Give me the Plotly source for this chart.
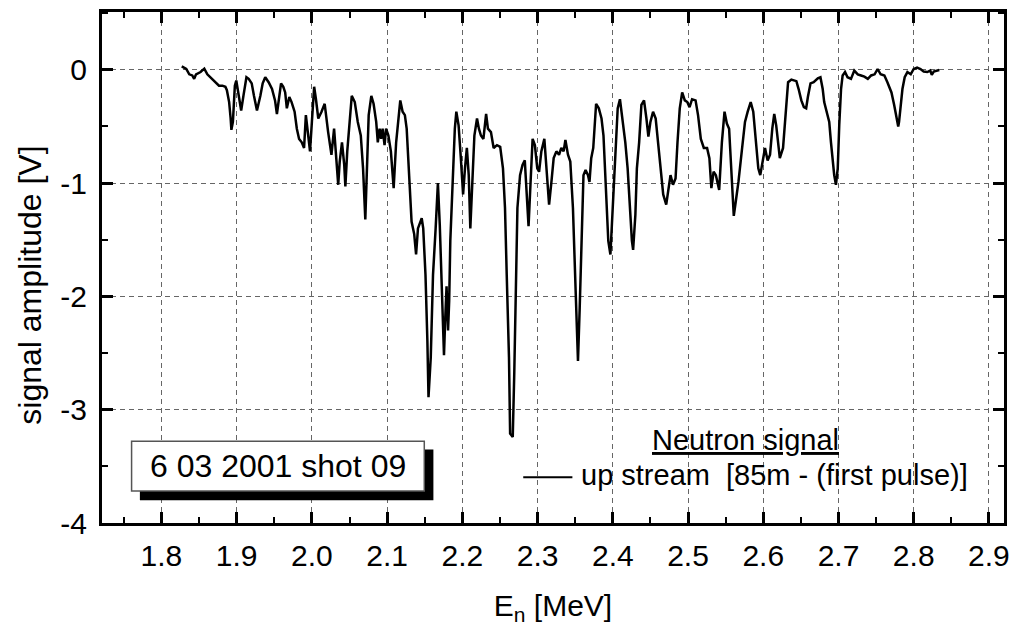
import plotly.graph_objects as go

# ---- data ----
energy_mev = [
    1.827, 1.833, 1.837, 1.841, 1.8435, 1.846, 1.852, 1.857, 1.861, 1.866,
    1.872, 1.8765, 1.881, 1.885, 1.887, 1.890, 1.892, 1.893, 1.895, 1.8976,
    1.8995, 1.902, 1.904, 1.906, 1.909, 1.913, 1.916, 1.920, 1.923, 1.927,
    1.9315, 1.9346, 1.938, 1.9425, 1.947, 1.951, 1.9535, 1.9556, 1.959, 1.962,
    1.9645, 1.9667, 1.970, 1.973, 1.977, 1.980, 1.983, 1.9865, 1.9896, 1.992,
    1.9943, 1.9975, 2.000, 2.003, 2.0054, 2.0085, 2.0128, 2.017, 2.0216, 2.026,
    2.0295, 2.0327, 2.035, 2.037, 2.040, 2.043, 2.0445, 2.047, 2.050, 2.053,
    2.057, 2.061, 2.065, 2.068, 2.071, 2.073, 2.0755, 2.079, 2.082, 2.0855,
    2.0876, 2.090, 2.092, 2.094, 2.0966, 2.0986, 2.1017, 2.105, 2.1087, 2.112,
    2.115, 2.1175, 2.1206, 2.1236, 2.126, 2.129, 2.1325, 2.136, 2.1385, 2.141,
    2.1435, 2.146, 2.148, 2.151, 2.1535, 2.155, 2.158, 2.161, 2.1645, 2.1675,
    2.170, 2.173, 2.1756, 2.177, 2.179, 2.181, 2.1825, 2.184, 2.187, 2.190,
    2.192, 2.195, 2.198, 2.201, 2.2035, 2.206, 2.2085, 2.2106, 2.2133, 2.216,
    2.2195, 2.222, 2.2247, 2.228, 2.2316, 2.234, 2.238, 2.2416, 2.246, 2.2503,
    2.254, 2.2567, 2.259, 2.262, 2.2635, 2.267, 2.269, 2.2714, 2.2732, 2.2767,
    2.280, 2.283, 2.2853, 2.288, 2.2907, 2.2934, 2.2964, 2.2996, 2.302, 2.305,
    2.309, 2.3117, 2.3153, 2.3184, 2.3214, 2.325, 2.3285, 2.3316, 2.3346, 2.337,
    2.3404, 2.3435, 2.347, 2.3506, 2.3537, 2.356, 2.3593, 2.361, 2.3638, 2.367,
    2.369, 2.3713, 2.374, 2.3778, 2.3814, 2.385, 2.3876, 2.391, 2.394, 2.3968,
    2.400, 2.403, 2.4065, 2.4095, 2.413, 2.4166, 2.4197, 2.4227, 2.4254, 2.427,
    2.430, 2.432, 2.435, 2.438, 2.4415, 2.4447, 2.4473, 2.450, 2.4535, 2.457,
    2.4605, 2.464, 2.467, 2.471, 2.4737, 2.4767, 2.480, 2.4834, 2.486, 2.489,
    2.4922, 2.4957, 2.499, 2.502, 2.5054, 2.510, 2.5133, 2.517, 2.521, 2.5253,
    2.5284, 2.531, 2.534, 2.537, 2.5414, 2.545, 2.5485, 2.5516, 2.5546, 2.558,
    2.5608, 2.5635, 2.567, 2.5714, 2.5757, 2.5793, 2.5833, 2.5867, 2.5903, 2.5934,
    2.596, 2.5987, 2.6023, 2.6058, 2.609, 2.612, 2.6146, 2.6172, 2.620, 2.622,
    2.6263, 2.6294, 2.633, 2.6374, 2.644, 2.647, 2.6506, 2.654, 2.657, 2.6593,
    2.6628, 2.667, 2.6725, 2.676, 2.679, 2.681, 2.6847, 2.6877, 2.690, 2.692,
    2.6943, 2.6966, 2.699, 2.701, 2.7034, 2.7055, 2.7087, 2.712, 2.7166, 2.721,
    2.7256, 2.730, 2.7344, 2.739, 2.7434, 2.748, 2.752, 2.756, 2.761, 2.765,
    2.7704, 2.774, 2.777, 2.7794, 2.7805, 2.7825, 2.785, 2.788, 2.7916, 2.796,
    2.800, 2.8045, 2.809, 2.8133, 2.818, 2.822, 2.824, 2.8266, 2.831, 2.834,
]

signal_v = [
    0.03, 0.007, -0.04, -0.05, -0.08, -0.04, -0.02, 0.01, -0.04, -0.075,
    -0.11, -0.14, -0.14, -0.15, -0.18, -0.285, -0.43, -0.53, -0.46, -0.14,
    -0.095, -0.20, -0.31, -0.36, -0.23, -0.066, -0.08, -0.12, -0.23, -0.36,
    -0.23, -0.12, -0.066, -0.11, -0.17, -0.27, -0.39, -0.27, -0.12, -0.15,
    -0.20, -0.34, -0.24, -0.285, -0.37, -0.52, -0.61, -0.64, -0.69, -0.40,
    -0.52, -0.72, -0.46, -0.15, -0.26, -0.43, -0.37, -0.30, -0.55, -0.75,
    -0.52, -0.84, -1.015, -0.81, -0.64, -0.84, -1.03, -0.72, -0.46, -0.23,
    -0.285, -0.46, -0.58, -0.87, -1.32, -0.87, -0.40, -0.23, -0.30, -0.46,
    -0.64, -0.52, -0.61, -0.52, -0.665, -0.52, -0.58, -0.72, -1.045, -0.64,
    -0.43, -0.27, -0.37, -0.40, -0.52, -0.93, -1.34, -1.45, -1.63, -1.40,
    -1.35, -1.31, -1.40, -1.81, -2.39, -2.89, -2.54, -1.81, -1.40, -1.00,
    -1.37, -2.10, -2.52, -2.24, -1.91, -2.30, -2.04, -1.51, -0.93, -0.52,
    -0.37, -0.49, -0.78, -1.10, -0.87, -0.69, -0.93, -1.40, -0.99, -0.58,
    -0.43, -0.52, -0.58, -0.61, -0.39, -0.52, -0.55, -0.69, -0.665, -0.68,
    -0.87, -1.22, -1.81, -2.54, -3.21, -3.24, -2.68, -1.81, -1.22, -0.93,
    -0.84, -0.80, -1.045, -1.38, -0.99, -0.61, -0.665, -0.87, -0.90, -0.72,
    -0.61, -0.87, -1.19, -0.99, -0.78, -0.72, -0.75, -0.69, -0.72, -0.62,
    -0.75, -0.81, -1.22, -1.95, -2.57, -2.10, -1.22, -0.93, -0.885, -0.93,
    -0.99, -0.78, -0.69, -0.30, -0.34, -0.43, -0.58, -1.075, -1.51, -1.63,
    -1.22, -0.72, -0.34, -0.26, -0.43, -0.64, -0.87, -1.22, -1.51, -1.59,
    -1.28, -0.87, -0.64, -0.31, -0.27, -0.43, -0.59, -0.46, -0.37, -0.43,
    -0.69, -0.93, -1.10, -1.19, -1.045, -0.93, -1.015, -0.96, -0.64, -0.34,
    -0.20, -0.27, -0.285, -0.33, -0.26, -0.27, -0.40, -0.61, -0.69, -0.69,
    -0.78, -1.045, -0.90, -0.93, -1.06, -0.64, -0.37, -0.475, -0.52, -0.93,
    -1.29, -1.16, -0.99, -0.72, -0.46, -0.37, -0.285, -0.37, -0.64, -0.87,
    -0.93, -0.81, -0.69, -0.80, -0.75, -0.52, -0.39, -0.49, -0.69, -0.78,
    -0.69, -0.40, -0.11, -0.086, -0.10, -0.17, -0.27, -0.33, -0.34, -0.24,
    -0.12, -0.11, -0.075, -0.066, -0.17, -0.285, -0.37, -0.46, -0.64, -0.81,
    -0.93, -1.015, -0.87, -0.49, -0.17, -0.05, -0.02, -0.066, -0.08, -0.007,
    -0.04, -0.05, -0.06, -0.08, -0.05, -0.04, 0.007, -0.04, -0.05, -0.11,
    -0.20, -0.31, -0.43, -0.50, -0.46, -0.31, -0.17, -0.066, -0.02, -0.04,
    0.007, 0.02, 0.007, -0.016, -0.02, -0.007, -0.045, -0.016, -0.007, -0.002,
]

x_tick_values = [1.8, 1.9, 2.0, 2.1, 2.2, 2.3, 2.4, 2.5, 2.6, 2.7, 2.8, 2.9]
x_tick_labels = ["1.8", "1.9", "2.0", "2.1", "2.2", "2.3", "2.4", "2.5", "2.6", "2.7", "2.8", "2.9"]
y_tick_values = [-4, -3, -2, -1, 0]
y_tick_labels = ["-4", "-3", "-2", "-1", "0"]

series_name = "up stream\u00a0\u00a0[85m - (first pulse)]"
legend_title = "Neutron signal"
box_text = "6 03 2001 shot 09"
x_title = "E<sub>n</sub> [MeV]"
y_title = "signal amplitude [V]"

FONT = "Liberation Sans, Arial, Helvetica, sans-serif"

fig = go.Figure()
fig.add_trace(go.Scatter(
    x=energy_mev, y=signal_v, mode="lines", name=series_name,
    line=dict(color="black", width=2.5), showlegend=False,
))

axis_common = dict(
    showline=True, linecolor="black", linewidth=3, mirror="allticks",
    ticks="inside", ticklen=11, tickwidth=2.5, tickcolor="black",
    showgrid=True, gridcolor="#666666", gridwidth=1, griddash="5px,4px",
    zeroline=False,
    tickfont=dict(family=FONT, size=30, color="black"),
)

fig.update_xaxes(
    **axis_common,
    range=[1.721, 2.92],
    tickmode="array", tickvals=x_tick_values, ticktext=x_tick_labels,
    minor=dict(ticks="inside", ticklen=6, tickwidth=2, tickcolor="black",
               dtick=0.05, tick0=1.75, showgrid=False),
    title=dict(text=x_title, font=dict(family=FONT, size=30, color="black"), standoff=24),
    ticklabelstandoff=4,
)
fig.update_yaxes(
    **axis_common,
    range=[-4, 0.51],
    tickmode="array", tickvals=y_tick_values, ticktext=y_tick_labels,
    minor=dict(ticks="inside", ticklen=6, tickwidth=2, tickcolor="black",
               dtick=0.5, tick0=0, showgrid=False),
    ticklabelstandoff=6,
)

# y-axis title placed like the reference (slightly below the plot centre)
fig.add_annotation(xref="paper", yref="paper", x=-0.0795, y=0.465,
                   text=y_title, textangle=-90, showarrow=False,
                   font=dict(family=FONT, size=32, color="black"),
                   xanchor="center", yanchor="middle")

# boxed label with drop shadow
fig.add_shape(type="rect", xref="paper", yref="paper",
              x0=0.042, x1=0.3674, y0=0.0447, y1=0.144,
              fillcolor="black", line=dict(width=0), layer="above")
fig.add_shape(type="rect", xref="paper", yref="paper",
              x0=0.0328, x1=0.3573, y0=0.0628, y1=0.1601,
              fillcolor="white", line=dict(color="#555555", width=1.5), layer="above")
fig.add_annotation(xref="paper", yref="paper", x=0.195, y=0.1115,
                   text=box_text, showarrow=False,
                   font=dict(family=FONT, size=32, color="black"),
                   xanchor="center", yanchor="middle")

# legend (drawn as a key line + texts)
fig.add_annotation(xref="paper", yref="paper", x=0.7135, y=0.1615,
                   text="<u>" + legend_title + "</u>", showarrow=False,
                   font=dict(family=FONT, size=29, color="black"),
                   xanchor="center", yanchor="middle")
fig.add_shape(type="line", xref="paper", yref="paper",
              x0=0.467, x1=0.5215, y0=0.0895, y1=0.0895,
              line=dict(color="black", width=2), layer="above")
fig.add_annotation(xref="paper", yref="paper", x=0.529, y=0.0934,
                   text=series_name, showarrow=False,
                   font=dict(family=FONT, size=29, color="black"),
                   xanchor="left", yanchor="middle")

fig.update_layout(
    width=1019, height=629,
    margin=dict(l=102, r=11, t=9, b=106),
    paper_bgcolor="white", plot_bgcolor="white",
    showlegend=False,
)

fig.write_html("out.html")
